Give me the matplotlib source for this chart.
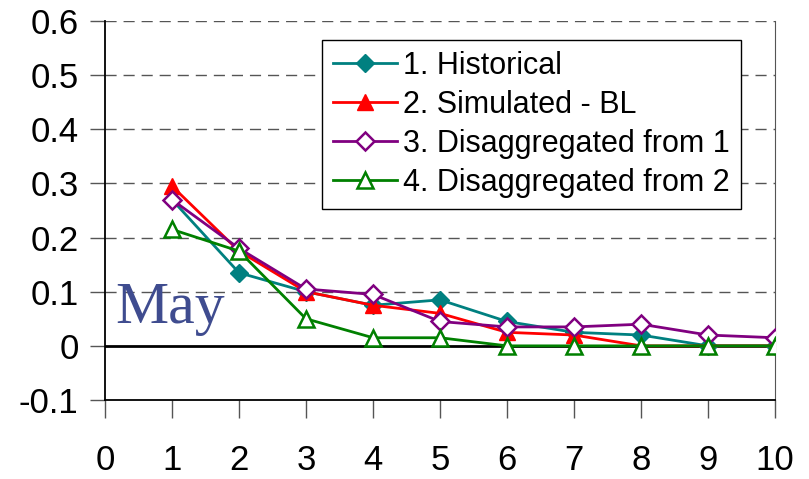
import matplotlib
matplotlib.use("Agg")
import matplotlib.pyplot as plt

plt.rcParams['font.family'] = ['Liberation Sans', 'DejaVu Sans']

# Data
months = [1, 2, 3, 4, 5, 6, 7, 8, 9, 10]
historical = [0.27, 0.135, 0.10, 0.075, 0.085, 0.045, 0.025, 0.02, 0.0, 0.0]
simulated_bl = [0.295, 0.175, 0.10, 0.075, 0.06, 0.025, 0.02, 0.0, 0.0, 0.0]
disagg_1 = [0.27, 0.18, 0.105, 0.095, 0.045, 0.035, 0.035, 0.04, 0.02, 0.015]
disagg_2 = [0.215, 0.175, 0.05, 0.015, 0.015, 0.0, 0.0, 0.0, 0.0, 0.0]
labels = ['1. Historical', '2. Simulated - BL',
          '3. Disaggregated from 1', '4. Disaggregated from 2']
yticks = [-0.1, 0, 0.1, 0.2, 0.3, 0.4, 0.5, 0.6]
xticks = list(range(0, 11))

fig = plt.figure(figsize=(8.09, 4.79), dpi=100)
ax = fig.add_axes([0.1298, 0.1649, 0.8282, 0.7913])

# dashed gridlines and zero line
for y in yticks[2:]:
    ax.axhline(y, color='#555555', lw=1.0, ls=(0, (8, 5)), zorder=1)
ax.axhline(0, color='black', lw=2.0, zorder=2)

ax.plot(months, historical, color='#008080', lw=2, marker='D', ms=9,
        mfc='#008080', mec='#008080', label=labels[0], zorder=3)
ax.plot(months, simulated_bl, color='#FF0000', lw=2, marker='^', ms=11,
        mfc='#FF0000', mec='#FF0000', label=labels[1], zorder=4)
ax.plot(months, disagg_1, color='#800080', lw=2, marker='D', ms=9,
        mfc='white', mec='#800080', mew=1.8, label=labels[2], zorder=5)
ax.plot(months, disagg_2, color='#008000', lw=2, marker='^', ms=12,
        mfc='white', mec='#008000', mew=1.8, label=labels[3], zorder=6)

ax.set_xlim(0, 10)
ax.set_ylim(-0.1, 0.6)
ax.set_xticks(xticks)
ax.set_yticks(yticks)
ax.set_yticklabels(['-0.1', '0', '0.1', '0.2', '0.3', '0.4', '0.5', '0.6'])
ax.tick_params(axis='x', direction='out', length=13, width=1, color='#555555',
               labelsize=25, pad=19)
ax.tick_params(axis='y', direction='out', length=11, width=1, color='#555555',
               labelsize=25, pad=8)

ax.spines['top'].set_visible(False)
ax.spines['right'].set_color('#555555')
for s in ['left', 'bottom']:
    ax.spines[s].set_linewidth(1.3)

ax.text(0.15, 0.042, 'May', fontsize=43, color='#3F4C8F',
        family='Liberation Serif', va='baseline', ha='left')

leg = ax.legend(loc='upper left', bbox_to_anchor=(0.324, 0.95), fontsize=22,
                frameon=True, fancybox=False, edgecolor='black', framealpha=1,
                handlelength=2.1, handletextpad=0.2, labelspacing=0.3,
                borderpad=0.35, borderaxespad=0)
leg.get_frame().set_linewidth(1.0)

fig.savefig('out.png', dpi=100)
